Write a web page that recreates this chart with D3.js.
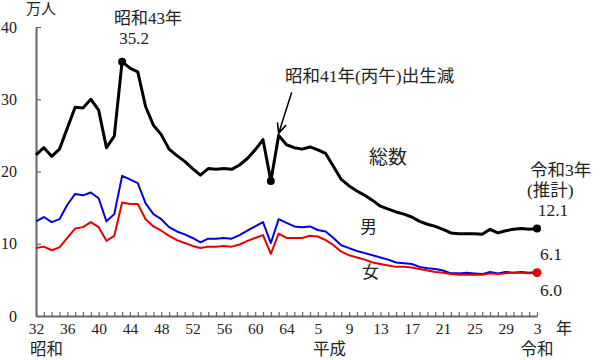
<!DOCTYPE html>
<html><head><meta charset="utf-8">
<script src="https://cdn.jsdelivr.net/npm/d3@7"></script>
<style>
html,body{margin:0;padding:0;background:#fff;}
svg{display:block;}
text{font-family:"Liberation Serif","Noto Sans CJK JP",serif;fill:#222;}
</style></head>
<body>
<svg id="chart" width="600" height="360"></svg>
<script>
const years = [1957,1958,1959,1960,1961,1962,1963,1964,1965,1966,1967,1968,1969,1970,1971,1972,1973,1974,1975,1976,1977,1978,1979,1980,1981,1982,1983,1984,1985,1986,1987,1988,1989,1990,1991,1992,1993,1994,1995,1996,1997,1998,1999,2000,2001,2002,2003,2004,2005,2006,2007,2008,2009,2010,2011,2012,2013,2014,2015,2016,2017,2018,2019,2020,2021];
const total = [22.3,23.3,22.1,23.1,26.0,28.9,28.8,30.0,28.5,23.3,24.9,35.2,34.3,33.8,29.0,26.4,25.1,23.1,22.2,21.4,20.4,19.5,20.4,20.3,20.4,20.3,20.9,21.8,23.0,24.4,18.7,25.0,23.7,23.3,23.1,23.4,23.0,22.5,20.7,18.9,18.0,17.3,16.7,16.0,15.2,14.8,14.4,14.1,13.7,13.1,12.7,12.4,12.0,11.5,11.4,11.4,11.4,11.3,12.0,11.5,11.8,12.0,12.1,12.0,12.1];
const male = [13.1,13.7,13.0,13.4,15.4,16.9,16.7,17.1,16.3,13.1,14.1,19.4,18.9,18.4,15.6,14.1,13.4,12.3,11.7,11.3,10.8,10.2,10.7,10.7,10.8,10.7,11.2,11.8,12.4,13.0,10.1,13.4,12.9,12.4,12.3,12.4,11.9,11.7,10.8,9.8,9.4,9.0,8.7,8.4,8.1,7.8,7.4,7.3,7.2,6.8,6.6,6.5,6.3,5.9,5.9,6.0,5.9,5.8,6.1,5.9,6.1,6.0,6.1,6.0,6.1];
const female = [9.4,9.6,9.1,9.5,10.8,12.1,12.3,13.0,12.3,10.4,11.1,15.7,15.5,15.5,13.4,12.4,11.8,11.1,10.5,10.1,9.7,9.4,9.6,9.6,9.7,9.6,9.9,10.4,10.8,11.2,8.6,11.4,10.8,10.8,10.8,11.1,11.0,10.5,9.8,8.9,8.4,8.1,7.8,7.4,7.2,7.0,6.8,6.8,6.7,6.5,6.3,6.1,6.0,5.8,5.7,5.7,5.7,5.7,5.9,5.8,5.9,6.0,6.0,5.9,6.0];
const yTicks = [0,10,20,30,40];
const xLabelYears = [1957,1961,1965,1969,1973,1977,1981,1985,1989,1993,1997,2001,2005,2009,2013,2017,2021];
const xLabels = ["32","36","40","44","48","52","56","60","64","5","9","13","17","21","25","29","3"];
const eraNames = ["昭和","平成","令和"];
const eraYears = [1957,1994.5,2021];

const svg = d3.select("#chart");
const x = d3.scaleLinear().domain([1957,2021]).range([36,537]);
const y = d3.scaleLinear().domain([0,40]).range([316,27]);
const axisColor = "#666";

// axes
const gy = svg.append("g").attr("transform","translate(36,0)")
  .call(d3.axisLeft(y).tickValues(yTicks).tickSize(-5).tickSizeOuter(0).tickPadding(19).tickFormat(d=>String(d)));
const gx = svg.append("g").attr("transform","translate(0,316)")
  .call(d3.axisBottom(x).tickValues(years).tickSize(-4).tickSizeOuter(0).tickPadding(7)
    .tickFormat(d=>{const k=xLabelYears.indexOf(d);return k>=0?xLabels[k]:"";}));
[gy,gx].forEach(g=>{
  g.select(".domain").attr("stroke",axisColor).attr("stroke-width",2);
  g.selectAll(".tick line").attr("stroke",axisColor).attr("stroke-width",1.2);
  g.selectAll(".tick text").attr("font-family",'"Liberation Serif",serif').attr("font-size",16).attr("fill","#222");
});
gx.selectAll(".tick text").attr("font-size",15.5);

// lines
const line = arr => d3.line().x((d,i)=>x(years[i])).y(d=>y(d))(arr);
svg.append("path").attr("d",line(male)).attr("fill","none").attr("stroke","#0000e0").attr("stroke-width",2).attr("stroke-linejoin","round");
svg.append("path").attr("d",line(female)).attr("fill","none").attr("stroke","#e80000").attr("stroke-width",2).attr("stroke-linejoin","round");
svg.append("path").attr("d",line(total)).attr("fill","none").attr("stroke","#000").attr("stroke-width",3).attr("stroke-linejoin","round");

// dots
const iPeak = years.indexOf(1968), iDip = years.indexOf(1987), iEnd = years.length-1;
[iPeak,iDip,iEnd].forEach(i=>{
  svg.append("circle").attr("cx",x(years[i])).attr("cy",y(total[i])).attr("r",4).attr("fill","#000");
});
svg.append("circle").attr("cx",x(years[iEnd])).attr("cy",y(female[iEnd])).attr("r",4.5).attr("fill","#e80000");

// arrow
const iA = years.indexOf(1988);
const tx = x(years[iA]), ty = y(total[iA]) - 2;
const sx = tx + 13, sy = ty - 41;
const ang = Math.atan2(ty-sy, tx-sx);
const hl = 11, ha = 0.42;
svg.append("path")
  .attr("d",`M${sx},${sy}L${tx},${ty}M${tx-hl*Math.cos(ang-ha)},${ty-hl*Math.sin(ang-ha)}L${tx},${ty}L${tx-hl*Math.cos(ang+ha)},${ty-hl*Math.sin(ang+ha)}`)
  .attr("fill","none").attr("stroke","#000").attr("stroke-width",1.6);

// texts
function txt(s,px,py,size,anchor){
  return svg.append("text").attr("x",px).attr("y",py).attr("font-size",size)
    .attr("text-anchor",anchor||"start").attr("dominant-baseline","central").text(s);
}
txt("万人",26,9,15);
txt("昭和43年",x(1968)+26,18,17,"middle");
txt(total[iPeak].toFixed(1),x(1968)+12,38,17,"middle");
txt("昭和41年(丙午)出生減",285,76,17.5);
txt("総数",369,157,19);
txt("男",360,227,17);
txt("女",362,272,17);
txt("令和3年",530,170,17.5);
txt("(推計)",527,190,17.5);
txt(total[iEnd].toFixed(1),x(2021)+16,210,17.5,"middle");
txt(male[iEnd].toFixed(1),x(2021)+14,254,17.5,"middle");
txt(female[iEnd].toFixed(1),x(2021)+14,290,17.5,"middle");
txt("年",556,328,16);
eraNames.forEach((n,k)=>{
  const px = k===0 ? x(eraYears[k])-6 : x(eraYears[k]);
  txt(n,px,349,16.5,k===0?"start":"middle");
});
</script>
</body></html>
